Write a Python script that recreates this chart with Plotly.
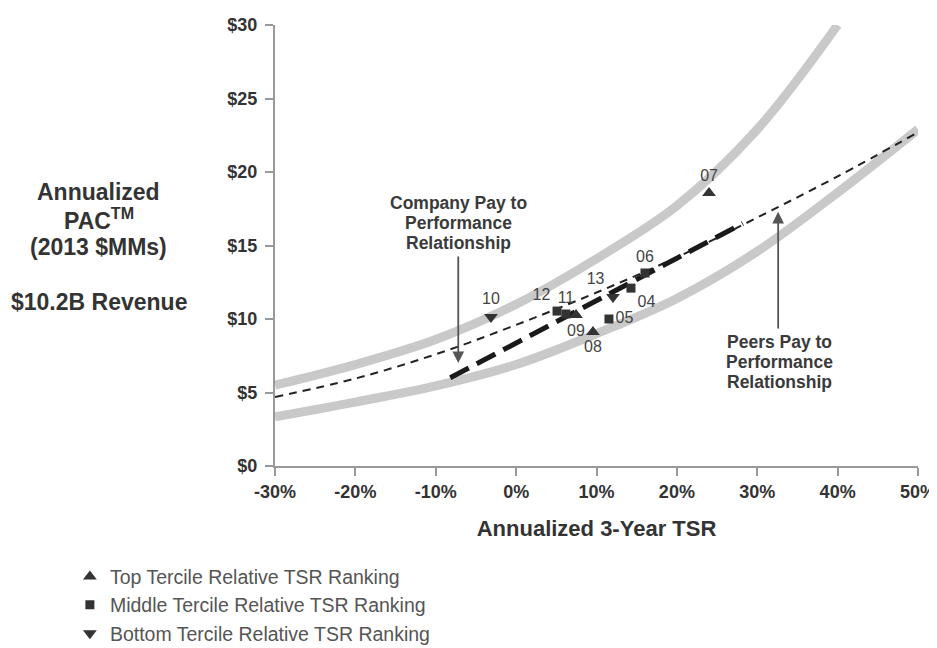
import plotly.graph_objects as go

# ---- data ----
grid_x = [-30, -20, -10, 0, 10, 20, 30, 40, 50]
upper_band_x = [-30, -20, -10, 0, 10, 20, 30, 40]
upper_band_y = [5.5, 6.9, 8.6, 11.0, 14.1, 17.7, 22.9, 30.0]
lower_band_y = [3.35, 4.35, 5.45, 6.9, 9.0, 11.4, 14.6, 18.6, 22.9]
peer_y = [4.7, 5.95, 7.6, 9.6, 11.8, 14.2, 16.9, 19.7, 22.7]

company_x = [-8.2, 28.2]
company_y = [6.0, 16.5]

top_labels = ["07", "09", "08"]
top_x = [24.0, 7.45, 9.56]
top_y = [18.57, 10.27, 9.12]
top_pos = ["top center", "bottom center", "bottom center"]

mid_labels = ["12", "11", "05", "04", "06"]
mid_x = [5.09, 6.2, 11.55, 14.29, 16.03]
mid_y = [10.54, 10.34, 10.0, 12.1, 13.13]
mid_pos = ["top left", "top center", "middle right", "bottom right", "top center"]

bot_labels = ["10", "13"]
bot_x = [-3.13, 12.05]
bot_y = [10.14, 11.5]
bot_pos = ["top center", "top left"]

x_ticks = [-30, -20, -10, 0, 10, 20, 30, 40, 50]
y_ticks = [0, 5, 10, 15, 20, 25, 30]

company_note = ["Company Pay to", "Performance", "Relationship"]
peer_note = ["Peers Pay to", "Performance", "Relationship"]
y_title_lines = ["Annualized", "PAC<sup>TM</sup>", "(2013 $MMs)", "$10.2B Revenue"]

FONT = "Liberation Sans, Arial, sans-serif"
DARK = "#333333"
BAND = "#c9c9c9"

fig = go.Figure()

fig.add_trace(go.Scatter(x=upper_band_x, y=upper_band_y, mode="lines",
                         line=dict(color=BAND, width=9, shape="spline"),
                         showlegend=False, hoverinfo="skip"))
fig.add_trace(go.Scatter(x=grid_x, y=lower_band_y, mode="lines",
                         line=dict(color=BAND, width=9, shape="spline"),
                         showlegend=False, hoverinfo="skip"))
fig.add_trace(go.Scatter(x=grid_x, y=peer_y, mode="lines",
                         line=dict(color="#222222", width=2, dash="8px,6px", shape="spline"),
                         showlegend=False, hoverinfo="skip"))
fig.add_trace(go.Scatter(x=company_x, y=company_y, mode="lines",
                         line=dict(color="#1a1a1a", width=5, dash="21px,9px"),
                         showlegend=False, hoverinfo="skip"))

label_font = dict(family=FONT, size=16, color="#444444")

fig.add_trace(go.Scatter(x=top_x, y=top_y, mode="markers+text", text=top_labels,
                         textposition=top_pos, textfont=label_font,
                         marker=dict(symbol="triangle-up", size=12, color=DARK),
                         name="Top Tercile Relative TSR Ranking", legendgroup="a"))
fig.add_trace(go.Scatter(x=mid_x, y=mid_y, mode="markers+text", text=mid_labels,
                         textposition=mid_pos, textfont=label_font,
                         marker=dict(symbol="square", size=9, color=DARK),
                         name="Middle Tercile Relative TSR Ranking", legendgroup="b"))
fig.add_trace(go.Scatter(x=bot_x, y=bot_y, mode="markers+text", text=bot_labels,
                         textposition=bot_pos, textfont=label_font,
                         marker=dict(symbol="triangle-down", size=12, color=DARK),
                         name="Bottom Tercile Relative TSR Ranking", legendgroup="c"))

ann_font = dict(family=FONT, size=17.5, color="#3a3a3a")
annotations = [
    dict(x=-7.2, y=7.0, ax=-7.2, ay=14.35, xref="x", yref="y", axref="x", ayref="y",
         text="", showarrow=True, arrowhead=2, arrowsize=1.3, arrowwidth=1.8, arrowcolor="#555555"),
    dict(x=32.6, y=17.3, ax=32.6, ay=9.25, xref="x", yref="y", axref="x", ayref="y",
         text="", showarrow=True, arrowhead=2, arrowsize=1.3, arrowwidth=1.8, arrowcolor="#555555"),
]
for txt, yv in zip(company_note, [17.86, 16.53, 15.2]):
    annotations.append(dict(x=-7.2, y=yv, xref="x", yref="y", showarrow=False,
                            text=f"<b>{txt}</b>", font=ann_font))
for txt, yv in zip(peer_note, [8.41, 7.07, 5.74]):
    annotations.append(dict(x=32.8, y=yv, xref="x", yref="y", showarrow=False,
                            text=f"<b>{txt}</b>", font=ann_font))

ytitle_font = dict(family=FONT, size=23, color="#333333")
for txt, yp in zip(y_title_lines, [0.621, 0.560, 0.497, 0.373]):
    annotations.append(dict(x=-0.274, y=yp, xref="paper", yref="paper", showarrow=False,
                            text=f"<b>{txt}</b>", font=ytitle_font, xanchor="center", yanchor="middle"))

# the page body adds an 8px offset; the figure is sized to fit the 937x648 window after it
fig.update_layout(
    width=929, height=640,
    margin=dict(l=267, r=19, t=17, b=182, autoexpand=False),
    paper_bgcolor="white", plot_bgcolor="white",
    font=dict(family=FONT, color=DARK),
    annotations=annotations,
    legend=dict(x=-0.319, y=-0.207, xanchor="left", yanchor="top",
                font=dict(family=FONT, size=19.5, color="#555555"),
                tracegroupgap=0, itemwidth=30, bgcolor="rgba(0,0,0,0)"),
    xaxis=dict(range=[-30, 50], tickvals=x_ticks, ticktext=[f"<b>{v}%</b>" for v in x_ticks],
               showgrid=False, zeroline=False, showline=True, linecolor="#999999", linewidth=2,
               ticks="outside", ticklen=8, tickwidth=2, tickcolor="#999999",
               tickfont=dict(family=FONT, size=18, color=DARK),
               title=dict(text="<b>Annualized 3-Year TSR</b>", font=dict(family=FONT, size=22, color=DARK),
                          standoff=20)),
    yaxis=dict(range=[0, 30], tickvals=y_ticks, ticktext=[f"<b>${v}</b>" for v in y_ticks],
               showgrid=False, zeroline=False, showline=True, linecolor="#999999", linewidth=2,
               ticks="outside", ticklen=8, tickwidth=2, tickcolor="#999999",
               ticklabelstandoff=4,
               tickfont=dict(family=FONT, size=18, color=DARK)),
)

fig.write_html("out.html")
